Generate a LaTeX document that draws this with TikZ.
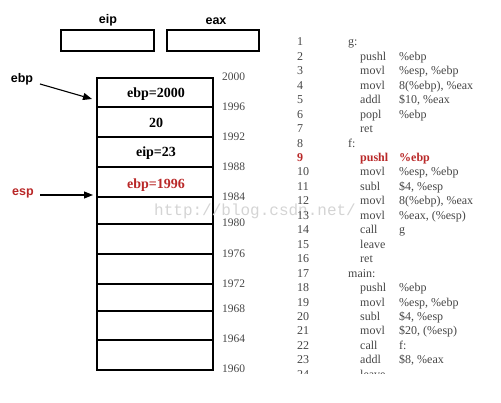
\documentclass[tikz,border=0pt]{standalone}
\usepackage{fontspec}
\setmainfont{Liberation Serif}
\newfontfamily\lsans{Liberation Sans}
\newfontfamily\wmono{Liberation Mono}
\usetikzlibrary{arrows.meta}
\definecolor{redt}{RGB}{185,40,40}
\definecolor{codegray}{RGB}{70,70,70}
\definecolor{wmgray}{RGB}{212,212,212}
\tikzset{
  regbox/.style={draw,line width=1.2pt},
  reglabel/.style={font=\lsans\bfseries\fontsize{12.5}{14}\selectfont},
  cell/.style={draw,line width=1.8pt},
  celltext/.style={font=\bfseries\fontsize{14}{16}\selectfont},
  addr/.style={anchor=west,text=codegray,font=\fontsize{11.5}{13}\selectfont,inner sep=0pt},
  ptr/.style={-{Triangle[length=9pt,width=7pt]},line width=1.1pt},
  code/.style={anchor=west,inner sep=0pt,text height=8.5pt,text depth=2pt,text=codegray,font=\fontsize{12}{14}\selectfont},
}
\newcommand\asmline[4][]{%
  \node[code,#1] (n#2) at (297,{42.7+14.45*(#2-1)}) {#2};
  \node[code,#1] (i#2) at (360,{42.7+14.45*(#2-1)}) {#3};
  \node[code,#1] (o#2) at (399,{42.7+14.45*(#2-1)}) {#4};}
\begin{document}
\begin{tikzpicture}[x=1pt,y=-1pt]
\useasboundingbox (0,0) rectangle (501,403);
% registers
\node[reglabel] (eiplab) at (108,20) {eip};
\node[reglabel] (eaxlab) at (216,21) {eax};
\draw[regbox] (61,30) rectangle (154,51);
\draw[regbox] (167,30) rectangle (259,51);
% stack
\foreach \a/\b in {78/107,107/137,137/167,167/197,197/224,224/254,254/284,284/311,311/340,340/370}
  \draw[cell] (97,\a) rectangle (213,\b);
\node[celltext] (c1) at (156,94) {ebp=2000};
\node[celltext] (c2) at (156,123) {20};
\node[celltext] (c3) at (156,153) {eip=23};
\node[celltext,text=redt] (c4) at (156,185) {ebp=1996};
% addresses
\foreach \v/\y in {2000/77,1996/107,1992/137,1988/167,1984/197,1980/223,1976/254,1972/284,1968/309,1964/339,1960/369}
  \node[addr] (a\v) at (222,\y) {\v};
% pointers
\node[reglabel] (ebplab) at (22,79) {ebp};
\node[reglabel,text=redt] (esplab) at (23,193) {esp};
\coordinate (ebptip) at (92,99);
\coordinate (esptip) at (93,195);
\coordinate (ebpst) at (40,84);
\coordinate (espst) at (40,195);
\draw[ptr] (ebpst) -- (ebptip);
\draw[ptr] (espst) -- (esptip);
% watermark
\node[text=wmgray,font=\wmono\fontsize{16}{18}\selectfont,anchor=west,inner sep=0pt] (wm) at (154,211) {http://blog.csdn.net/};
% code
\begin{scope}
\clip (280,0) rectangle (501,374);
\node[code] (g) at (348,{42.7}) {g:};
\asmline{2}{pushl}{\%ebp}
\asmline{3}{movl}{\%esp, \%ebp}
\asmline{4}{movl}{8(\%ebp), \%eax}
\asmline{5}{addl}{\$10, \%eax}
\asmline{6}{popl}{\%ebp}
\asmline{7}{ret}{}
\asmline[text=redt,font=\bfseries\fontsize{12}{14}\selectfont]{9}{pushl}{\%ebp}
\asmline{10}{movl}{\%esp, \%ebp}
\asmline{11}{subl}{\$4, \%esp}
\asmline{12}{movl}{8(\%ebp), \%eax}
\asmline{13}{movl}{\%eax, (\%esp)}
\asmline{14}{call}{g}
\asmline{15}{leave}{}
\asmline{16}{ret}{}
\asmline{18}{pushl}{\%ebp}
\asmline{19}{movl}{\%esp, \%ebp}
\asmline{20}{subl}{\$4, \%esp}
\asmline{21}{movl}{\$20, (\%esp)}
\asmline{22}{call}{f:}
\asmline{23}{addl}{\$8, \%eax}
\asmline{24}{leave}{}
\node[code] (n1) at (297,42.7) {1};
\node[code] (n8) at (297,{42.7+14.45*7}) {8};
\node[code] (f) at (348,{42.7+14.45*7}) {f:};
\node[code] (n17) at (297,{42.7+14.45*16}) {17};
\node[code] (mainlab) at (348,{42.7+14.45*16}) {main:};
\end{scope}
\end{tikzpicture}
\end{document}
